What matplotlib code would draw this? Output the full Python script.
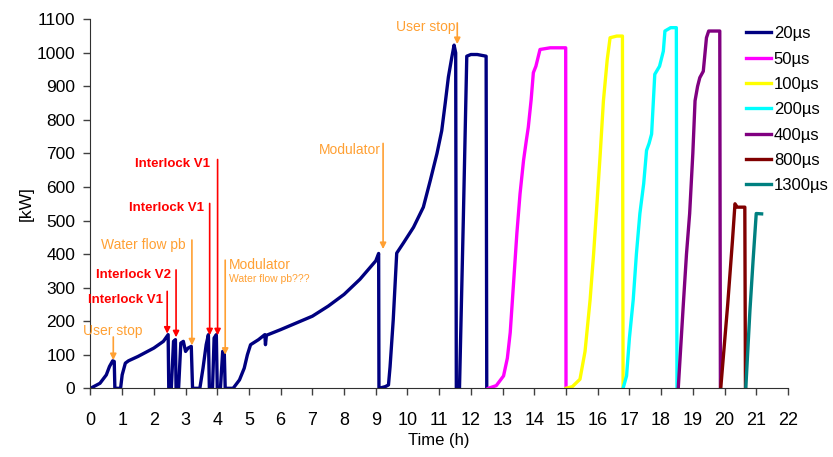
import matplotlib.pyplot as plt

plt.rcParams["font.family"] = ["Liberation Sans", "DejaVu Sans"]

# pulse-length runs: time (h) and forward power (kW)
t_20 = [0, 0.1, 0.3, 0.5, 0.6, 0.7, 0.75, 0.77, 0.95, 1.0, 1.1, 1.2, 1.5, 2.0, 2.3, 2.45,
        2.47, 2.55, 2.62, 2.68, 2.7, 2.78, 2.85, 2.93, 3.0, 3.08, 3.18, 3.22, 3.45, 3.55,
        3.65, 3.72, 3.75, 3.85, 3.9, 3.97, 4.0, 4.1, 4.17, 4.22, 4.25, 4.5, 4.7, 4.85,
        4.95, 5.05, 5.3, 5.5, 5.52, 5.55, 6.0, 6.5, 7.0, 7.5, 8.0, 8.5, 9.0, 9.09, 9.1,
        9.3, 9.4, 9.45, 9.55, 9.66, 9.87, 10.19, 10.5, 10.72, 10.93, 11.08, 11.19, 11.29,
        11.4, 11.47, 11.52, 11.54, 11.64, 11.76, 11.87, 12.0, 12.2, 12.48, 12.5]
p_20 = [0, 5, 15, 40, 65, 82, 80, 0, 0, 40, 75, 82, 95, 120, 140, 160,
        0, 0, 140, 145, 0, 0, 135, 140, 110, 120, 125, 0, 0, 60,
        130, 160, 0, 0, 150, 160, 0, 0, 110, 110, 0, 0, 25, 60,
        100, 130, 145, 160, 130, 158, 175, 195, 215, 245, 280, 325, 380, 402, 0,
        5, 10, 64, 204, 403, 433, 480, 540, 620, 700, 768, 850, 928,
        988, 1023, 1000, 0, 0, 500, 990, 995, 995, 990, 0]

t_50 = [12.55, 12.8, 13.03, 13.15, 13.24, 13.35, 13.45, 13.55, 13.66, 13.75, 13.81, 13.9,
        13.97, 14.05, 14.18, 14.5, 14.99, 15.0]
p_50 = [0, 8, 37, 90, 166, 320, 462, 580, 679, 740, 778, 860,
        941, 960, 1010, 1015, 1015, 0]

t_100 = [15.0, 15.2, 15.44, 15.6, 15.76, 15.87, 15.97, 16.08, 16.18, 16.3, 16.39, 16.6,
         16.78, 16.8]
p_100 = [0, 5, 27, 110, 264, 400, 541, 700, 857, 980, 1045, 1050, 1050, 0]

t_200 = [16.8, 16.91, 17.0, 17.12, 17.22, 17.33, 17.45, 17.54, 17.62, 17.7, 17.8, 17.95,
         18.07, 18.12, 18.3, 18.48, 18.5]
p_200 = [0, 37, 150, 264, 400, 521, 610, 709, 730, 758, 936, 960,
         1005, 1065, 1075, 1075, 0]

t_400 = [18.54, 18.7, 18.8, 18.9, 19.0, 19.07, 19.15, 19.22, 19.33, 19.43, 19.5, 19.85, 19.87]
p_400 = [0, 250, 400, 521, 700, 857, 900, 926, 945, 1045, 1065, 1065, 0]

t_800 = [19.88, 20.1, 20.25, 20.33, 20.4, 20.64, 20.66]
p_800 = [0, 250, 440, 550, 540, 540, 0]

t_1300 = [20.67, 20.8, 20.9, 21.0, 21.17]
p_1300 = [0, 230, 380, 521, 520]

runs = [
    ("20µs", t_20, p_20, "#000080"),
    ("50µs", t_50, p_50, "#FF00FF"),
    ("100µs", t_100, p_100, "#FFFF00"),
    ("200µs", t_200, p_200, "#00FFFF"),
    ("400µs", t_400, p_400, "#800080"),
    ("800µs", t_800, p_800, "#800000"),
    ("1300µs", t_1300, p_1300, "#008080"),
]

# events: label, label position, arrow x, arrow top, arrow tip, colour, bold
ORANGE = "#FFA033"
RED = "#FF0000"
events = [
    ("User stop", 0.7, 171, "center", 0.72, 153, 84, ORANGE, False),
    ("Interlock V1", 2.3, 264, "right", 2.42, 289, 163, RED, True),
    ("Interlock V2", 2.54, 338, "right", 2.70, 353, 152, RED, True),
    ("Water flow pb", 2.99, 427, "right", 3.20, 442, 128, ORANGE, False),
    ("Interlock V1", 3.59, 537, "right", 3.76, 551, 158, RED, True),
    ("Interlock V1", 3.78, 668, "right", 4.01, 682, 158, RED, True),
    ("Modulator", 4.38, 368, "left", 4.25, 382, 100, ORANGE, False),
    ("Modulator", 9.17, 710, "right", 9.23, 730, 415, ORANGE, False),
    ("User stop", 11.5, 1077, "right", 11.57, 1089, 1026, ORANGE, False),
]

fig = plt.figure(figsize=(8.33, 4.57), dpi=100)
ax = fig.add_axes([0.1086, 0.1503, 0.8373, 0.8075])

for name, t, p, c in runs:
    ax.plot(t, p, color=c, lw=2.4, label=name, solid_joinstyle="round")

for label, tx, ty, ha, ax_x, y0, y1, c, bold in events:
    ax.annotate("", xy=(ax_x, y1), xytext=(ax_x, y0),
                arrowprops=dict(arrowstyle="-|>", color=c, lw=1.2,
                                mutation_scale=9, shrinkA=0, shrinkB=0))
    ax.text(tx, ty, label, color=c, ha=ha, va="center",
            fontsize=9.5 if bold else 10, fontweight="bold" if bold else "normal")
ax.text(4.38, 325, "Water flow pb???", color=ORANGE, ha="left", va="center", fontsize=7.5)

ax.set_xlim(0, 22)
ax.set_ylim(0, 1100)
ax.set_xticks(range(0, 23))
ax.set_yticks(range(0, 1101, 100))
ax.tick_params(axis="both", direction="out", length=5, width=1, color="#404040")
ax.tick_params(axis="x", labelsize=13, pad=12)
ax.tick_params(axis="y", labelsize=12.5, pad=6)
for side in ("top", "right"):
    ax.spines[side].set_visible(False)
for side in ("left", "bottom"):
    ax.spines[side].set_color("#303030")
ax.set_xlabel("Time (h)", fontsize=12, labelpad=3)
ax.set_ylabel("[kW]", fontsize=12.5, labelpad=2)

ax.legend(loc="upper left", bbox_to_anchor=(738 / 833, 1 - 18 / 457),
          bbox_transform=fig.transFigure, frameon=False, fontsize=12,
          handlelength=1.5, handletextpad=0.15, labelspacing=0.62, borderpad=0)

fig.savefig("out.png", dpi=100)
